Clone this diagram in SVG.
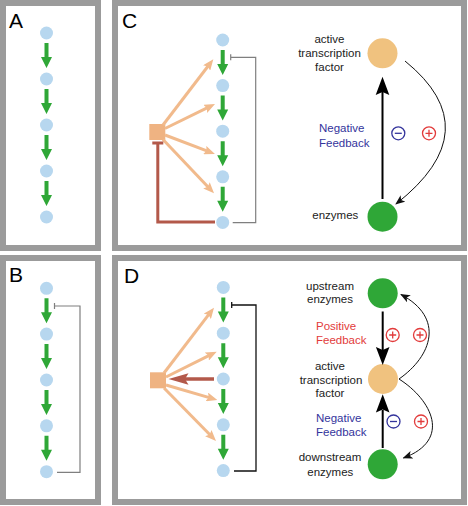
<svg xmlns="http://www.w3.org/2000/svg" width="468" height="506" viewBox="0 0 468 506">
<style>
.panel{fill:#fff;stroke:#9b9b9b;stroke-width:6}
.nd{fill:#b7d7ef}
.ga{fill:#2fa737}
.lbl{font-family:"Liberation Sans",Arial,sans-serif;font-size:21px;fill:#000}
.t{font-family:"Liberation Sans",Arial,sans-serif;font-size:11.5px;fill:#222}
.tm{text-anchor:middle}
.red{fill:#e23b3b}
.blue{fill:#34349c}
.oa{stroke:#f1ba8c;stroke-width:3;fill:none}
.inh{stroke:#7f7f7f;stroke-width:1.2;fill:none}
.inhk{stroke:#111;stroke-width:1.3;fill:none}
.br{stroke:#b3594a;stroke-width:3;fill:none}
.thin{stroke:#111;stroke-width:1;fill:none}
.bk{stroke:#000;stroke-width:2}
.tf{fill:#f0c27f}
.gn{fill:#2fa737}
.sq{fill:#efb382}
</style>
<defs>
<path id="ga" class="ga" d="M-2,0H2V14H5.5L0,25L-5.5,14H-2Z"/>
<marker id="mo" markerUnits="userSpaceOnUse" markerWidth="11" markerHeight="9" viewBox="0 0 11 9" refX="4.4" refY="4.5" orient="auto">
<path d="M0,0L11,4.5L0,9L2,4.5Z" fill="#f1ba8c"/>
</marker>
<marker id="mk" markerUnits="userSpaceOnUse" markerWidth="10" markerHeight="8" viewBox="0 0 10 8" refX="9" refY="4" orient="auto">
<path d="M0,0L10,4L0,8L2.5,4Z" fill="#111"/>
</marker>
<g id="plus"><circle r="6.5" fill="none" stroke="#e23b3b" stroke-width="1.3"/><path d="M-3.5,0H3.5M0,-3.5V3.5" stroke="#e23b3b" stroke-width="1.3"/></g>
<g id="minus"><circle r="6.5" fill="none" stroke="#34349c" stroke-width="1.3"/><path d="M-3.5,0H3.5" stroke="#34349c" stroke-width="1.3"/></g>
</defs>

<g id="panels">
<rect class="panel" x="3" y="3" width="95" height="245"/>
<rect class="panel" x="3" y="258" width="95" height="244"/>
<rect class="panel" x="115" y="3" width="349" height="245"/>
<rect class="panel" x="115" y="258" width="349" height="244"/>
</g>

<g id="labels">
<text class="lbl" x="9" y="28">A</text>
<text class="lbl" x="9" y="282">B</text>
<text class="lbl" x="122" y="28">C</text>
<text class="lbl" x="124" y="283">D</text>
</g>

<!-- Panel A -->
<g id="A-nodes">
<circle class="nd" cx="46.5" cy="33" r="6.5"/>
<circle class="nd" cx="46.5" cy="79" r="6.5"/>
<circle class="nd" cx="46.5" cy="125" r="6.5"/>
<circle class="nd" cx="46.5" cy="171" r="6.5"/>
<circle class="nd" cx="46.5" cy="217" r="6.5"/>
</g>
<g id="A-connectors">
<use href="#ga" x="46.5" y="43"/>
<use href="#ga" x="46.5" y="89"/>
<use href="#ga" x="46.5" y="135"/>
<use href="#ga" x="46.5" y="181"/>
</g>

<!-- Panel B -->
<g id="B-nodes">
<circle class="nd" cx="46.5" cy="288.3" r="6.5"/>
<circle class="nd" cx="46.5" cy="334.1" r="6.5"/>
<circle class="nd" cx="46.5" cy="380" r="6.5"/>
<circle class="nd" cx="46.5" cy="425.8" r="6.5"/>
<circle class="nd" cx="46.5" cy="471.7" r="6.5"/>
</g>
<g id="B-connectors">
<use href="#ga" x="46.5" y="298.3"/>
<use href="#ga" x="46.5" y="344.1"/>
<use href="#ga" x="46.5" y="390"/>
<use href="#ga" x="46.5" y="435.8"/>
<path class="inh" d="M57,472.3H80V306H54.5M54.5,303V309"/>
</g>

<!-- Panel C -->
<g id="C-nodes">
<circle class="nd" cx="222.7" cy="40" r="6.5"/>
<circle class="nd" cx="222.7" cy="85.6" r="6.5"/>
<circle class="nd" cx="222.7" cy="131.2" r="6.5"/>
<circle class="nd" cx="222.7" cy="176.8" r="6.5"/>
<circle class="nd" cx="222.7" cy="222.4" r="6.5"/>
<rect id="C-tf-box" class="sq" x="149.3" y="124" width="16" height="16"/>
</g>
<g id="C-connectors">
<use href="#ga" x="222.7" y="50"/>
<use href="#ga" x="222.7" y="95.6"/>
<use href="#ga" x="222.7" y="141.2"/>
<use href="#ga" x="222.7" y="186.8"/>
<path class="inh" d="M232.7,222.7H255.7V57.3H230.7M230.7,54.3V60.3"/>
<line class="oa" x1="163" y1="125" x2="209.3" y2="64.5" marker-end="url(#mo)"/>
<line class="oa" x1="165" y1="128.5" x2="209.1" y2="106.9" marker-end="url(#mo)"/>
<line class="oa" x1="165" y1="135" x2="208.8" y2="151.7" marker-end="url(#mo)"/>
<line class="oa" x1="163" y1="139.5" x2="209.5" y2="188.5" marker-end="url(#mo)"/>
<path class="br" d="M215,222H157.8V143M152.3,143H163.3"/>
</g>

<g id="C-tf">
<circle class="tf" cx="382.5" cy="53.3" r="15"/>
<text class="t tm" x="329.5" y="42.5">active</text>
<text class="t tm" x="329.5" y="56.5">transcription</text>
<text class="t tm" x="329.5" y="70.5">factor</text>
</g>
<g id="C-enz">
<circle class="gn" cx="382.5" cy="216.7" r="15"/>
<text class="t" x="312.3" y="218.5">enzymes</text>
</g>
<g id="C-feedback">
<line class="bk" x1="382.5" y1="199" x2="382.5" y2="92"/>
<polygon points="382.5,76.7 389.3,95 382.5,92 375.7,95" fill="#000"/>
<path class="thin" d="M405,61Q490,130 396,204" marker-end="url(#mk)"/>
<text class="t blue" x="319" y="132">Negative</text>
<text class="t blue" x="319" y="147">Feedback</text>
<use href="#minus" x="398.3" y="133.3"/>
<use href="#plus" x="429" y="133.3"/>
</g>

<!-- Panel D -->
<g id="D-nodes">
<circle class="nd" cx="223.3" cy="287.4" r="6.5"/>
<circle class="nd" cx="223.3" cy="333.2" r="6.5"/>
<circle class="nd" cx="223.3" cy="379" r="6.5"/>
<circle class="nd" cx="223.3" cy="424.8" r="6.5"/>
<circle class="nd" cx="223.3" cy="470.6" r="6.5"/>
<rect id="D-tf-box" class="sq" x="150" y="372.3" width="16" height="16"/>
</g>
<g id="D-connectors">
<use href="#ga" x="223.3" y="297.4"/>
<use href="#ga" x="223.3" y="343.2"/>
<use href="#ga" x="223.3" y="389"/>
<use href="#ga" x="223.3" y="434.8"/>
<path class="inhk" d="M234,471H256V305H231.7M231.7,302V308"/>
<line class="oa" x1="164" y1="373" x2="210" y2="312.9" marker-end="url(#mo)"/>
<line class="oa" x1="166" y1="377" x2="210.8" y2="354.6" marker-end="url(#mo)"/>
<line class="oa" x1="166" y1="385" x2="211" y2="398.1" marker-end="url(#mo)"/>
<line class="oa" x1="164" y1="388" x2="211.4" y2="436.3" marker-end="url(#mo)"/>
<line x1="214" y1="379" x2="185" y2="379" stroke="#b3594a" stroke-width="3.5"/>
<polygon points="168.5,379 188.5,373.3 185,379 188.5,384.7" fill="#b3594a"/>
</g>

<g id="D-up">
<circle class="gn" cx="382.7" cy="293.3" r="15"/>
<text class="t tm" x="330" y="289.5">upstream</text>
<text class="t tm" x="330" y="303">enzymes</text>
</g>
<g id="D-tf">
<circle class="tf" cx="383" cy="379" r="15"/>
<text class="t tm" x="330" y="369.5">active</text>
<text class="t tm" x="331" y="383.5">transcription</text>
<text class="t tm" x="330" y="397">factor</text>
</g>
<g id="D-down">
<circle class="gn" cx="382.7" cy="464.3" r="15"/>
<text class="t tm" x="330" y="461">downstream</text>
<text class="t tm" x="330.3" y="475.5">enzymes</text>
</g>
<g id="D-feedback">
<line class="bk" x1="382.7" y1="311.5" x2="382.7" y2="350"/>
<polygon points="382.7,365 375.9,347 382.7,350 389.5,347" fill="#000"/>
<line class="bk" x1="382.7" y1="448" x2="382.7" y2="410"/>
<polygon points="382.7,394.3 375.9,412.5 382.7,409.5 389.5,412.5" fill="#000"/>
<path class="thin" d="M399,379C432,356 445,318 401,294.5" marker-end="url(#mk)"/>
<path class="thin" d="M399,379C432,400 452,440 403.5,458" marker-end="url(#mk)"/>
<text class="t red" x="316" y="330">Positive</text>
<text class="t red" x="316" y="344.3">Feedback</text>
<text class="t blue" x="316" y="421.7">Negative</text>
<text class="t blue" x="316" y="436">Feedback</text>
<use href="#plus" x="392.7" y="335"/>
<use href="#plus" x="420" y="335"/>
<use href="#minus" x="393.5" y="421.5"/>
<use href="#plus" x="421" y="421.5"/>
</g>
</svg>
